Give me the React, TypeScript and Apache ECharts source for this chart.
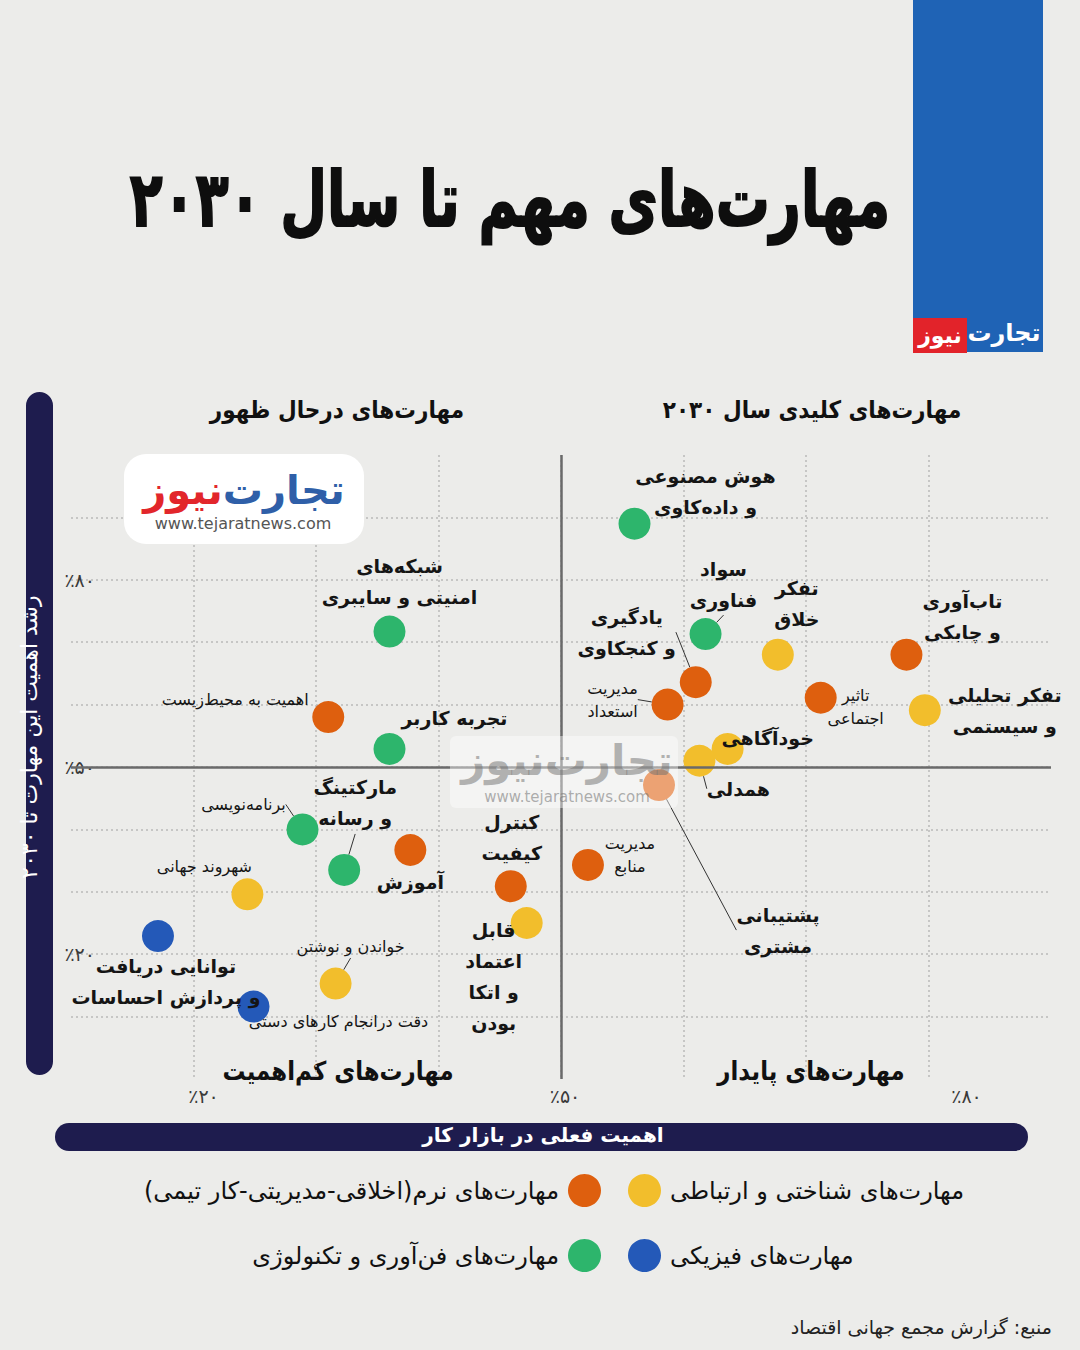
import React, { useEffect, useRef } from "react";
import * as echarts from "echarts";

const FONT = "DejaVu Sans";

// Skill groups (legend) and their colours
const categories = [
  "مهارت\u200cهای شناختی و ارتباطی",
  "مهارت\u200cهای نرم(اخلاقی-مدیریتی-کار تیمی)",
  "مهارت\u200cهای فیزیکی",
  "مهارت\u200cهای فن\u200cآوری و تکنولوژی",
];
const categoryColors = ["#F2BE2C", "#DE5F0E", "#2459B8", "#2DB56C"];

// Skills: name, current importance in the job market (%), growth of importance to 2030 (%), group
const skillNames = [
  "شبکه\u200cهای\nامنیتی و سایبری",
  "اهمیت به محیط\u200cزیست",
  "تجربه کاربر",
  "برنامه\u200cنویسی",
  "مارکتینگ\nو رسانه",
  "آموزش",
  "شهروند جهانی",
  "توانایی دریافت\nو پردازش احساسات",
  "خواندن و نوشتن",
  "دقت درانجام کارهای دستی",
  "کنترل\nکیفیت",
  "قابل\nاعتماد\nو اتکا\nبودن",
  "هوش مصنوعی\nو داده\u200cکاوی",
  "سواد\nفناوری",
  "تفکر\nخلاق",
  "تاب\u200cآوری\nو چابکی",
  "یادگیری\nو کنجکاوی",
  "مدیریت\nاستعداد",
  "تاثیر\nاجتماعی",
  "تفکر تحلیلی\nو سیستمی",
  "خودآگاهی",
  "همدلی",
  "پشتیبانی\nمشتری",
  "مدیریت\nمنابع",
];
const currentImportance = [
  36.0, 31.0, 36.0, 28.9, 32.3, 37.7, 24.4, 17.1, 31.6, 24.9, 45.9, 47.2,
  56.0, 61.8, 67.7, 78.2, 61.0, 58.7, 71.2, 79.7, 63.6, 61.3, 58.0, 52.2,
];
const growthTo2030 = [
  71.7, 58.0, 52.9, 40.0, 33.5, 36.7, 29.6, 22.9, 15.3, 11.6, 30.9, 25.0,
  89.0, 71.3, 68.0, 68.0, 63.6, 60.0, 61.1, 59.1, 52.9, 51.0, 47.1, 34.3,
];
const skillGroup = [3, 1, 3, 3, 3, 1, 0, 2, 0, 2, 1, 0, 3, 3, 0, 1, 1, 1, 1, 0, 0, 0, 1, 1];

// Axis tick labels shown
const xTickLabels: Record<number, string> = { 20: "٪۲۰", 50: "٪۵۰", 80: "٪۸۰" };
const yTickLabels: Record<number, string> = { 20: "٪۲۰", 50: "٪۵۰", 80: "٪۸۰" };

// Label placement next to each dot: [dx, dy, size, leader line]
const labelPlacement: [number, number, "L" | "S", boolean][] = [
  [10, -50, "L", false],
  [-93, -18, "S", false],
  [65, -31, "L", false],
  [-59, -25, "S", true],
  [11, -67, "L", true],
  [0, 32, "L", false],
  [-43, -28, "S", false],
  [8, 45, "L", false],
  [15, -37, "S", true],
  [85, 15, "S", false],
  [1, -49, "L", false],
  [-33, 53, "L", false],
  [71, -32, "L", false],
  [18, -50, "L", true],
  [19, -51, "L", false],
  [56, -38, "L", false],
  [-69, -50, "L", true],
  [-55, -5, "S", true],
  [35, 9, "S", false],
  [80, 0, "L", false],
  [40, -11, "L", false],
  [39, 28, "L", true],
  [119, 145, "L", true],
  [42, -10, "S", false],
];

const labelSizes = {
  L: { fontSize: 19, lineHeight: 31, fontWeight: "bold" as const },
  S: { fontSize: 16, lineHeight: 23, fontWeight: "normal" as const },
};

function buildOption() {
  const members = categories.map((_, ci) =>
    skillNames.map((_, k) => k).filter((k) => skillGroup[k] === ci)
  );

  const scatterSeries = categories.map((cat, ci) => ({
    type: "scatter",
    name: cat,
    z: 3,
    symbol: "circle",
    symbolSize: 32,
    itemStyle: { color: categoryColors[ci], opacity: 1 },
    emphasis: { disabled: true },
    label: {
      show: true,
      position: "inside",
      formatter: "{b}",
      color: "#151515",
      fontFamily: FONT,
      align: "center",
      verticalAlign: "middle",
    },
    labelLine: { show: false, lineStyle: { color: "#333333", width: 1 } },
    labelLayout: (p: any) => {
      const k = members[ci][p.dataIndex];
      const pl = labelPlacement[k];
      return { dx: pl[0], dy: pl[1] };
    },
    data: members[ci].map((k) => {
      const pl = labelPlacement[k];
      return {
        name: skillNames[k],
        value: [currentImportance[k], growthTo2030[k]],
        label: { ...labelSizes[pl[2]] },
        labelLine: { show: pl[3] },
      };
    }),
  }));

  // Quadrant dividers at 50% on both axes
  const dividerSeries = {
    type: "scatter",
    name: "dividers",
    z: 1,
    data: [],
    markLine: {
      silent: true,
      symbol: "none",
      label: { show: false },
      lineStyle: { color: "#6A6A6A", width: 2.5, type: "solid" },
      data: [{ xAxis: 50 }, { yAxis: 50 }],
    },
  };

  const legendBase = {
    orient: "vertical",
    top: 1174,
    padding: 0,
    itemWidth: 33,
    itemHeight: 33,
    itemGap: 32,
    icon: "circle",
    selectedMode: false,
    formatter: (n: string) => "\u200F" + n + "\u200F",
    textStyle: { fontSize: 24, color: "#111111", fontFamily: FONT },
  };

  const sectionTitle = (text: string, x: number, y: number, size: number, sx: number) => ({
    type: "text",
    x,
    y,
    scaleX: sx,
    style: {
      text,
      fill: "#111111",
      fontSize: size,
      fontWeight: "bold",
      fontFamily: FONT,
      align: "center",
      verticalAlign: "middle",
    },
  });

  return {
    animation: false,
    backgroundColor: "#ECECEA",
    grid: { left: 71, right: 29, top: 455, bottom: 271, containLabel: false },
    xAxis: {
      type: "value",
      min: 10,
      max: 90,
      interval: 10,
      name: "اهمیت فعلی در بازار کار",
      nameLocation: "middle",
      nameGap: 46,
      nameTextStyle: {
        color: "#FFFFFF",
        fontSize: 20,
        fontWeight: "bold",
        fontFamily: FONT,
        padding: [0, 36, 0, 0],
      },
      axisLine: { show: false },
      axisTick: { show: false },
      axisLabel: {
        margin: 7,
        color: "#3A3A3A",
        fontSize: 19,
        fontFamily: FONT,
        formatter: (v: number) => {
          if (v === 20) return "{l|" + xTickLabels[20] + "}";
          if (v === 50) return "{m|" + xTickLabels[50] + "}";
          if (v === 80) return "{r|" + xTickLabels[80] + "}";
          return "";
        },
        rich: {
          l: { fontSize: 19, color: "#3A3A3A", fontFamily: FONT, padding: [0, 0, 0, 20] },
          m: { fontSize: 19, color: "#3A3A3A", fontFamily: FONT, padding: [0, 0, 0, 8] },
          r: { fontSize: 19, color: "#3A3A3A", fontFamily: FONT, padding: [0, 0, 0, 76] },
        },
      },
      splitLine: {
        show: true,
        showMinLine: false,
        showMaxLine: false,
        lineStyle: { color: "#B9B9B9", width: 1.5, type: [2, 3] },
      },
    },
    yAxis: {
      type: "value",
      min: 0,
      max: 100,
      interval: 10,
      name: "رشد اهمیت این مهارت تا ۲۰۳۰",
      nameLocation: "middle",
      nameRotate: 90,
      nameGap: 31,
      nameTextStyle: {
        color: "#FFFFFF",
        fontSize: 22,
        fontWeight: "normal",
        fontFamily: FONT,
        padding: [0, 0, 0, 60],
      },
      axisLine: { show: false },
      axisTick: { show: false },
      axisLabel: {
        margin: -24,
        color: "#3A3A3A",
        fontSize: 19,
        fontFamily: FONT,
        verticalAlign: "middle",
        padding: [0, 0, 20, 0],
        formatter: (v: number) => yTickLabels[v] || "",
      },
      splitLine: {
        show: true,
        showMinLine: false,
        showMaxLine: false,
        lineStyle: { color: "#B9B9B9", width: 1.5, type: [2, 3] },
      },
    },
    legend: [
      {
        ...legendBase,
        data: [categories[0], categories[2]],
        left: 628,
        align: "left",
        textStyle: { ...legendBase.textStyle, padding: [0, 0, 0, 4] },
      },
      {
        ...legendBase,
        data: [categories[1], categories[3]],
        right: 479,
        align: "right",
        textStyle: { ...legendBase.textStyle, padding: [0, 4, 0, 0] },
      },
    ],
    graphic: [
      // axis title pills
      { type: "rect", z: 0, shape: { x: 26, y: 392, width: 27, height: 683, r: 13.5 }, style: { fill: "#1E1C4E" } },
      { type: "rect", z: 0, shape: { x: 55, y: 1123, width: 973, height: 28, r: 14 }, style: { fill: "#1E1C4E" } },
      // header band with brand
      { type: "rect", shape: { x: 913, y: 0, width: 130, height: 352 }, style: { fill: "#1F63B5" } },
      { type: "rect", shape: { x: 913, y: 318, width: 54, height: 35 }, style: { fill: "#E2232A" } },
      {
        type: "text",
        x: 940,
        y: 335,
        style: { text: "نیوز", fill: "#FFFFFF", fontSize: 22, fontWeight: "bold", fontFamily: FONT, align: "center", verticalAlign: "middle" },
      },
      {
        type: "text",
        x: 1004,
        y: 333,
        style: { text: "تجارت", fill: "#FFFFFF", fontSize: 24, fontWeight: "bold", fontFamily: FONT, align: "center", verticalAlign: "middle" },
      },
      // main title
      {
        type: "text",
        x: 510,
        y: 200,
        scaleX: 0.71,
        style: {
          text: "مهارت\u200cهای مهم تا سال ۲۰۳۰",
          fill: "#0E0E0E",
          fontSize: 76,
          fontWeight: "bold",
          fontFamily: FONT,
          align: "center",
          verticalAlign: "middle",
          stroke: "#0E0E0E",
          lineWidth: 2,
        },
      },
      // quadrant titles
      sectionTitle("مهارت\u200cهای درحال ظهور", 337, 410, 24, 0.9),
      sectionTitle("مهارت\u200cهای کلیدی سال ۲۰۳۰", 812, 410, 24, 0.9),
      sectionTitle("مهارت\u200cهای کم\u200cاهمیت", 338, 1071, 26, 0.88),
      sectionTitle("مهارت\u200cهای پایدار", 811, 1071, 26, 0.88),
      // brand card
      { type: "rect", z: 5, shape: { x: 124, y: 454, width: 240, height: 90, r: 22 }, style: { fill: "#FFFFFF" } },
      {
        type: "text",
        z: 6,
        x: 244,
        y: 490,
        style: {
          text: "{r|نیوز}{b|تجارت}",
          fontFamily: FONT,
          align: "center",
          verticalAlign: "middle",
          rich: {
            r: { fill: "#E2262B", fontSize: 40, fontWeight: "bold", fontFamily: FONT },
            b: { fill: "#2F5FA8", fontSize: 40, fontWeight: "bold", fontFamily: FONT },
          },
        },
      },
      {
        type: "text",
        z: 6,
        x: 243,
        y: 523,
        style: { text: "www.tejaratnews.com", fill: "#555555", fontSize: 16, fontFamily: FONT, align: "center", verticalAlign: "middle" },
      },
      // watermark
      { type: "rect", z: 50, shape: { x: 450, y: 736, width: 228, height: 72, r: 6 }, style: { fill: "rgba(255,255,255,0.42)" } },
      {
        type: "text",
        z: 51,
        x: 567,
        y: 760,
        style: {
          text: "{r|نیوز}{b|تجارت}",
          fontFamily: FONT,
          align: "center",
          verticalAlign: "middle",
          rich: {
            r: { fill: "rgba(110,110,110,0.5)", fontSize: 42, fontWeight: "bold", fontFamily: FONT },
            b: { fill: "rgba(110,110,110,0.5)", fontSize: 42, fontWeight: "bold", fontFamily: FONT },
          },
        },
      },
      {
        type: "text",
        z: 51,
        x: 567,
        y: 797,
        style: { text: "www.tejaratnews.com", fill: "rgba(110,110,110,0.55)", fontSize: 15, fontFamily: FONT, align: "center", verticalAlign: "middle" },
      },
      // source
      {
        type: "text",
        x: 1052,
        y: 1327,
        style: { text: "منبع: گزارش مجمع جهانی اقتصاد", fill: "#222222", fontSize: 19, fontFamily: FONT, align: "right", verticalAlign: "middle" },
      },
    ],
    series: [...scatterSeries, dividerSeries],
  };
}

export default function App() {
  const ref = useRef<HTMLDivElement>(null);
  useEffect(() => {
    document.body.style.margin = "0";
    const chart = echarts.init(ref.current!, null, { renderer: "svg" });
    chart.setOption(buildOption() as any);
    return () => chart.dispose();
  }, []);
  return <div ref={ref} style={{ width: 1080, height: 1350 }} />;
}
